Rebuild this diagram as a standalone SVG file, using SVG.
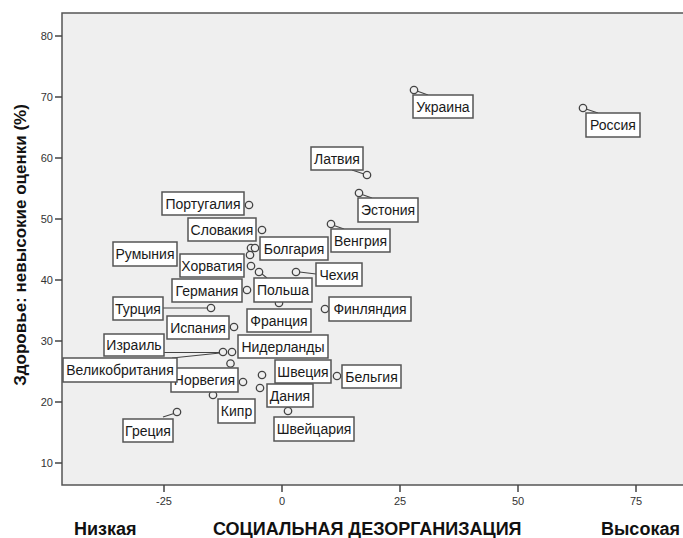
<svg xmlns="http://www.w3.org/2000/svg" width="683" height="538" viewBox="0 0 683 538">
<style>
.frame{fill:#efefef;stroke:#555;stroke-width:1.5}
.tick{stroke:#444;stroke-width:1.5}
.tl{font-family:"Liberation Sans",Arial,sans-serif;font-size:11px;fill:#333}
.ax{font-family:"Liberation Sans",Arial,sans-serif;font-size:18px;font-weight:bold;fill:#111}
.pt{fill:#efefef;stroke:#444;stroke-width:1.3}
.ld{stroke:#444;stroke-width:1.1;fill:none}
.box{fill:#fff;stroke:#555;stroke-width:1.5}
.lb{font-family:"Liberation Sans",Arial,sans-serif;font-size:14px;fill:#1a1a1a;text-anchor:middle}
</style>
<rect class="frame" x="62" y="13" width="640" height="472"/>
<g id="axes">
<g class="tick">
<line x1="55" y1="36" x2="62" y2="36"/><line x1="55" y1="97" x2="62" y2="97"/><line x1="55" y1="158" x2="62" y2="158"/><line x1="55" y1="219" x2="62" y2="219"/><line x1="55" y1="280" x2="62" y2="280"/><line x1="55" y1="341" x2="62" y2="341"/><line x1="55" y1="402" x2="62" y2="402"/><line x1="55" y1="463" x2="62" y2="463"/>
<line x1="164" y1="485" x2="164" y2="492"/><line x1="282" y1="485" x2="282" y2="492"/><line x1="400" y1="485" x2="400" y2="492"/><line x1="518" y1="485" x2="518" y2="492"/><line x1="636" y1="485" x2="636" y2="492"/>
</g>
<g class="tl" text-anchor="end">
<text x="53" y="40">80</text><text x="53" y="101">70</text><text x="53" y="162">60</text><text x="53" y="223">50</text><text x="53" y="284">40</text><text x="53" y="345">30</text><text x="53" y="406">20</text><text x="53" y="467">10</text>
</g>
<g class="tl" text-anchor="middle">
<text x="164" y="505">-25</text><text x="282" y="505">0</text><text x="400" y="505">25</text><text x="518" y="505">50</text><text x="636" y="505">75</text>
</g>
<text class="ax" x="74" y="535">Низкая</text>
<text class="ax" x="213" y="535">СОЦИАЛЬНАЯ ДЕЗОРГАНИЗАЦИЯ</text>
<text class="ax" x="601" y="535">Высокая</text>
<text class="ax" style="font-size:17px" text-anchor="middle" transform="translate(26,245) rotate(-90)">Здоровье: невысокие оценки (%)</text>
</g>
<g id="connectors">
<line class="ld" x1="417" y1="91" x2="428" y2="95"/>
<line class="ld" x1="586" y1="109" x2="598" y2="113"/>
<line class="ld" x1="352" y1="170" x2="364" y2="174"/>
<line class="ld" x1="362" y1="194.5" x2="372" y2="198"/>
<line class="ld" x1="334" y1="225.5" x2="344" y2="229"/>
<line class="ld" x1="262" y1="274" x2="267" y2="278"/>
<line class="ld" x1="299.5" y1="272" x2="316" y2="274"/>
<line class="ld" x1="163" y1="308" x2="207.5" y2="308"/>
<line class="ld" x1="164" y1="352.5" x2="219.5" y2="352.5"/>
<line class="ld" x1="172" y1="358" x2="220" y2="353"/>
<line class="ld" x1="163" y1="417" x2="174" y2="413.5"/>
</g>
<g id="points">
<circle class="pt" cx="414" cy="90" r="3.7"/>
<circle class="pt" cx="583" cy="108" r="3.7"/>
<circle class="pt" cx="367" cy="175" r="3.7"/>
<circle class="pt" cx="359" cy="193" r="3.7"/>
<circle class="pt" cx="331" cy="224" r="3.7"/>
<circle class="pt" cx="249" cy="205" r="3.7"/>
<circle class="pt" cx="262" cy="230" r="3.7"/>
<circle class="pt" cx="251" cy="248" r="3.7"/>
<circle class="pt" cx="255" cy="248" r="3.7"/>
<circle class="pt" cx="250" cy="255" r="3.7"/>
<circle class="pt" cx="251" cy="266" r="3.7"/>
<circle class="pt" cx="259" cy="272" r="3.7"/>
<circle class="pt" cx="296" cy="272" r="3.7"/>
<circle class="pt" cx="247" cy="290" r="3.7"/>
<circle class="pt" cx="211" cy="308" r="3.7"/>
<circle class="pt" cx="279" cy="303" r="3.7"/>
<circle class="pt" cx="325" cy="309" r="3.7"/>
<circle class="pt" cx="234" cy="327" r="3.7"/>
<circle class="pt" cx="223" cy="352" r="3.7"/>
<circle class="pt" cx="232" cy="352" r="3.7"/>
<circle class="pt" cx="230.5" cy="363.5" r="3.7"/>
<circle class="pt" cx="243" cy="382" r="3.7"/>
<circle class="pt" cx="213" cy="395" r="3.7"/>
<circle class="pt" cx="262" cy="375" r="3.7"/>
<circle class="pt" cx="260" cy="388" r="3.7"/>
<circle class="pt" cx="337" cy="376" r="3.7"/>
<circle class="pt" cx="288" cy="411" r="3.7"/>
<circle class="pt" cx="177" cy="412" r="3.7"/>
</g>
<g id="n-ukraina"><rect class="box" x="413" y="95" width="60" height="23"/><text class="lb" x="443" y="111.5">Украина</text></g>
<g id="n-rossiya"><rect class="box" x="586" y="113" width="54" height="24"/><text class="lb" x="613" y="130">Россия</text></g>
<g id="n-latviya"><rect class="box" x="311" y="147" width="52" height="23"/><text class="lb" x="337" y="163.5">Латвия</text></g>
<g id="n-estoniya"><rect class="box" x="358" y="198" width="60" height="24"/><text class="lb" x="388" y="215">Эстония</text></g>
<g id="n-vengriya"><rect class="box" x="331" y="229" width="59" height="23"/><text class="lb" x="360.5" y="245.5">Венгрия</text></g>
<g id="n-portugaliya"><rect class="box" x="162" y="192" width="82" height="23"/><text class="lb" x="203" y="208.5">Португалия</text></g>
<g id="n-slovakiya"><rect class="box" x="188" y="218" width="68" height="23"/><text class="lb" x="222" y="234.5">Словакия</text></g>
<g id="n-bolgariya"><rect class="box" x="260" y="237" width="68" height="23"/><text class="lb" x="294" y="253.5">Болгария</text></g>
<g id="n-rumyniya"><rect class="box" x="113" y="242" width="64" height="24"/><text class="lb" x="145" y="259">Румыния</text></g>
<g id="n-horvatiya"><rect class="box" x="180" y="254" width="64" height="23"/><text class="lb" x="212" y="270.5">Хорватия</text></g>
<g id="n-polsha"><rect class="box" x="254" y="278" width="58" height="24"/><text class="lb" x="283" y="295">Польша</text></g>
<g id="n-chehiya"><rect class="box" x="316" y="263" width="46" height="23"/><text class="lb" x="339" y="279.5">Чехия</text></g>
<g id="n-germaniya"><rect class="box" x="172" y="279" width="70" height="23"/><text class="lb" x="207" y="295.5">Германия</text></g>
<g id="n-turciya"><rect class="box" x="113" y="297" width="50" height="23"/><text class="lb" x="138" y="313.5">Турция</text></g>
<g id="n-franciya"><rect class="box" x="247" y="309" width="64" height="23"/><text class="lb" x="279" y="325.5">Франция</text></g>
<g id="n-finlyandiya"><rect class="box" x="329" y="297" width="82" height="24"/><text class="lb" x="370" y="314">Финляндия</text></g>
<g id="n-ispaniya"><rect class="box" x="167" y="316" width="62" height="23"/><text class="lb" x="198" y="332.5">Испания</text></g>
<g id="n-izrail"><rect class="box" x="104" y="334" width="60" height="22"/><text class="lb" x="134" y="350">Израиль</text></g>
<g id="n-niderlandy"><rect class="box" x="238" y="335" width="90" height="23"/><text class="lb" x="283" y="351.5">Нидерланды</text></g>
<g id="n-norvegiya"><rect class="box" x="171" y="368" width="67" height="24"/><text class="lb" x="204.5" y="385">Норвегия</text></g>
<g id="n-velikobritaniya"><rect class="box" x="63" y="358" width="114" height="24"/><text class="lb" x="120" y="375">Великобритания</text></g>
<g id="n-kipr"><rect class="box" x="218" y="399" width="37" height="24"/><text class="lb" x="236.5" y="416">Кипр</text></g>
<g id="n-shveciya"><rect class="box" x="275" y="360" width="56" height="23"/><text class="lb" x="303" y="376.5">Швеция</text></g>
<g id="n-daniya"><rect class="box" x="267" y="384" width="46" height="23"/><text class="lb" x="290" y="400.5">Дания</text></g>
<g id="n-belgiya"><rect class="box" x="342" y="365" width="59" height="23"/><text class="lb" x="371.5" y="381.5">Бельгия</text></g>
<g id="n-shveicariya"><rect class="box" x="274" y="417" width="80" height="24"/><text class="lb" x="314" y="434">Швейцария</text></g>
<g id="n-greciya"><rect class="box" x="123" y="419" width="50" height="23"/><text class="lb" x="148" y="435.5">Греция</text></g>
</svg>
